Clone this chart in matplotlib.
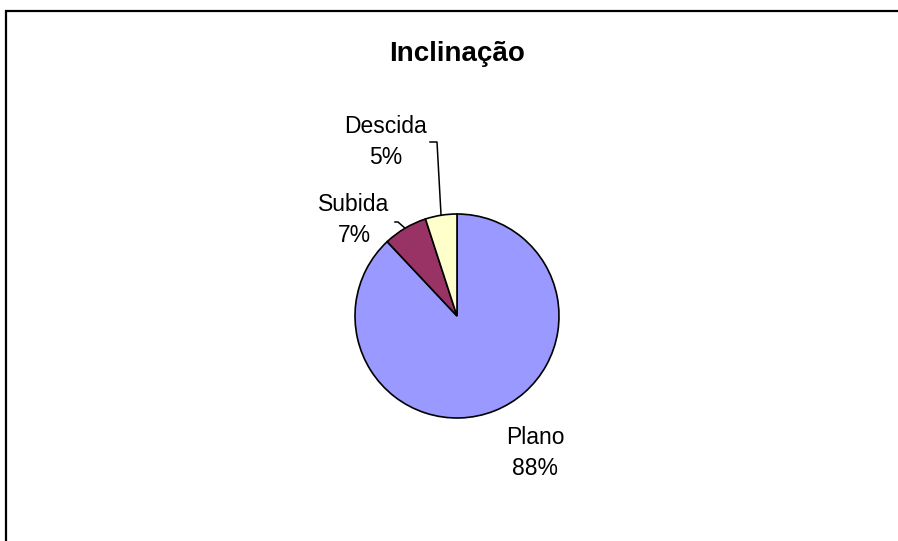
import numpy as np
import matplotlib.pyplot as plt
from matplotlib.patches import Rectangle

plt.rcParams['font.family'] = ['Liberation Sans', 'DejaVu Sans']

# slope share of the surveyed stretches
categorias = ['Plano', 'Subida', 'Descida']
valores = [88, 7, 5]
cores = ['#9999FF', '#993366', '#FFFFCC']

W, H = 898, 541
fig = plt.figure(figsize=(W / 100, H / 100), dpi=100)
ax = fig.add_axes([0, 0, 1, 1])
ax.set_xlim(0, W)
ax.set_ylim(0, H)
ax.set_aspect('equal')
ax.axis('off')

# chart frame (only top and left edges fall inside the image)
ax.add_patch(Rectangle((6, -20), W + 40, H - 11 + 20, fill=False,
                       edgecolor='black', linewidth=1.6))

cx, cy, r = 457, H - 316, 102
wedges, _ = ax.pie(valores, colors=cores, startangle=90, counterclock=False,
                   radius=r, center=(cx, cy),
                   wedgeprops=dict(edgecolor='black', linewidth=1.2))
ax.set_xlim(0, W)
ax.set_ylim(0, H)

ax.text(W / 2 + 8, H - 54, 'Inclinação', ha='center', va='center',
        fontsize=20, fontweight='bold')

# label block centers, in pixel coordinates
pos_rotulos = {'Plano': (535, H - 453), 'Subida': (354, H - 220),
               'Descida': (386, H - 142)}
total = sum(valores)
for w, nome, v in zip(wedges, categorias, valores):
    lx, ly = pos_rotulos[nome]
    ax.text(lx, ly, f'{nome}\n{v / total:.0%}', ha='center', va='center',
            fontsize=16.5, linespacing=1.4)
    if nome == 'Plano':
        continue
    ang = np.deg2rad((w.theta1 + w.theta2) / 2)
    ex, ey = cx + r * np.cos(ang), cy + r * np.sin(ang)
    if nome == 'Descida':
        pts = [(430, H - 142), (437, H - 142), (ex, ey)]
    else:
        pts = [(395, H - 222), (398, H - 222), (ex, ey)]
    xs, ys = zip(*pts)
    ax.plot(xs, ys, color='black', linewidth=1.1)

fig.savefig('out.png', dpi=100, facecolor='white')
